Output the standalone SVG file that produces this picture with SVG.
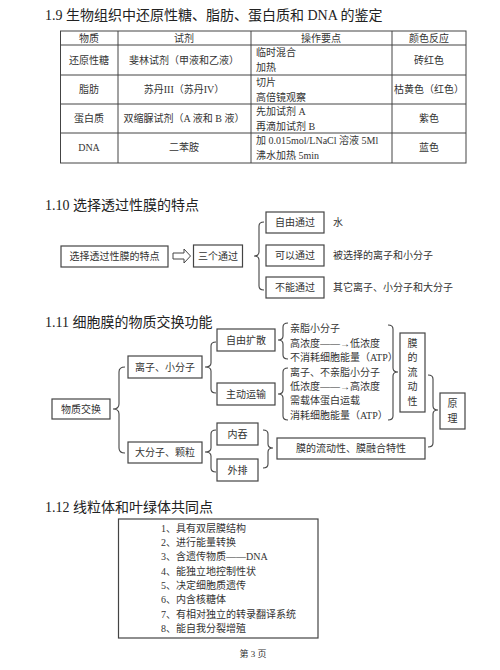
<svg xmlns="http://www.w3.org/2000/svg" width="500" height="670" viewBox="0 0 500 670">
<style>
.t{font-family:"Liberation Serif","Noto Sans CJK SC",serif;font-size:10px;fill:#333}
.c{text-anchor:middle}
.h{font-family:"Liberation Serif","Noto Sans CJK SC",serif;font-size:14px;fill:#222}
.b{fill:#fff;stroke:#444;stroke-width:1.2}
.l{fill:none;stroke:#444;stroke-width:1}
.br{fill:none;stroke:#444;stroke-width:1.1}
</style>
<rect width="500" height="670" fill="#fff"/>

<!-- 1.9 -->
<text class="h" x="45" y="20">1.9 生物组织中还原性糖、脂肪、蛋白质和 DNA 的鉴定</text>
<g id="table">
<rect class="l" x="60.5" y="31" width="405.5" height="132"/>
<path class="l" d="M60.5 45H466M60.5 75H466M60.5 104H466M60.5 133H466M118 31V163M251 31V163M392 31V163"/>
<text class="t c" x="89" y="41.5">物质</text>
<text class="t c" x="184" y="41.5">试剂</text>
<text class="t c" x="321" y="41.5">操作要点</text>
<text class="t c" x="429" y="41.5">颜色反应</text>
<text class="t c" x="89" y="63.5">还原性糖</text>
<text class="t c" x="184" y="63.5">斐林试剂（甲液和乙液）</text>
<text class="t" x="256" y="56">临时混合</text>
<text class="t" x="256" y="70.5">加热</text>
<text class="t c" x="429" y="63.5">砖红色</text>
<text class="t c" x="89" y="93">脂肪</text>
<text class="t c" x="184" y="93">苏丹III（苏丹IV）</text>
<text class="t" x="256" y="85.5">切片</text>
<text class="t" x="256" y="100.5">高倍镜观察</text>
<text class="t c" x="429" y="93">枯黄色（红色）</text>
<text class="t c" x="89" y="122">蛋白质</text>
<text class="t c" x="184" y="122">双缩脲试剂（A 液和 B 液）</text>
<text class="t" x="256" y="114.5">先加试剂 A</text>
<text class="t" x="256" y="129.5">再滴加试剂 B</text>
<text class="t c" x="429" y="122">紫色</text>
<text class="t c" x="89" y="151">DNA</text>
<text class="t c" x="184" y="151">二苯胺</text>
<text class="t" x="256" y="143.5">加 0.015mol/LNaCl 溶液 5Ml</text>
<text class="t" x="256" y="158.5">沸水加热 5min</text>
<text class="t c" x="429" y="151">蓝色</text>
</g>

<!-- 1.10 -->
<text class="h" x="45" y="210">1.10 选择透过性膜的特点</text>
<g id="n10a"><rect class="b" x="61" y="246" width="107" height="21"/><text class="t c" x="114.5" y="260">选择透过性膜的特点</text></g>
<g id="n10b"><rect class="b" x="193.5" y="245" width="49" height="22"/><text class="t c" x="218" y="259.5">三个通过</text></g>
<g id="n10c"><rect class="b" x="266" y="212" width="58" height="21"/><text class="t c" x="295" y="226">自由通过</text><text class="t" x="333" y="226">水</text></g>
<g id="n10d"><rect class="b" x="266" y="245" width="58" height="21"/><text class="t c" x="295" y="259">可以通过</text><text class="t" x="333" y="259">被选择的离子和小分子</text></g>
<g id="n10e"><rect class="b" x="266" y="277" width="58" height="21"/><text class="t c" x="295" y="291">不能通过</text><text class="t" x="333" y="291">其它离子、小分子和大分子</text></g>

<!-- 1.11 -->
<text class="h" x="45" y="327">1.11 细胞膜的物质交换功能</text>
<g id="n11a"><rect class="b" x="52" y="399" width="58" height="20"/><text class="t c" x="81" y="412.5">物质交换</text></g>
<g id="n11b"><rect class="b" x="128" y="356" width="74" height="22"/><text class="t c" x="165" y="370.5">离子、小分子</text></g>
<g id="n11c"><rect class="b" x="128" y="442" width="74" height="21"/><text class="t c" x="165" y="456">大分子、颗粒</text></g>
<g id="n11d"><rect class="b" x="217" y="329" width="58" height="22"/><text class="t c" x="246" y="343.5">自由扩散</text></g>
<g id="n11e"><rect class="b" x="217" y="383" width="58" height="22"/><text class="t c" x="246" y="397.5">主动运输</text></g>
<g id="n11f"><rect class="b" x="217" y="423" width="41" height="22"/><text class="t c" x="237.5" y="437.5">内吞</text></g>
<g id="n11g"><rect class="b" x="217" y="459" width="41" height="22"/><text class="t c" x="237.5" y="473.5">外排</text></g>
<g id="n11h">
<text class="t" x="290" y="331.5">亲脂小分子</text>
<text class="t" x="290" y="346.5">高浓度——→低浓度</text>
<text class="t" x="290" y="361">不消耗细胞能量（ATP）</text>
</g>
<g id="n11i">
<text class="t" x="290" y="375.5">离子、不亲脂小分子</text>
<text class="t" x="290" y="390">低浓度——→高浓度</text>
<text class="t" x="290" y="404">需载体蛋白运载</text>
<text class="t" x="290" y="418.5">消耗细胞能量（ATP）</text>
</g>
<g id="n11j"><rect class="b" x="400" y="333" width="25" height="79"/>
<text class="t c" x="412.5" y="346.5">膜</text><text class="t c" x="412.5" y="361">的</text><text class="t c" x="412.5" y="375.5">流</text><text class="t c" x="412.5" y="390">动</text><text class="t c" x="412.5" y="404.5">性</text></g>
<g id="n11k"><rect class="b" x="277" y="438" width="148" height="21"/><text class="t c" x="351" y="452">膜的流动性、膜融合特性</text></g>
<g id="n11l"><rect class="b" x="440" y="393" width="25" height="36"/><text class="t c" x="452.5" y="406.5">原</text><text class="t c" x="452.5" y="422">理</text></g>

<!-- 1.12 -->
<text class="h" x="45" y="512">1.12 线粒体和叶绿体共同点</text>
<g id="n12"><rect class="b" x="118.5" y="519" width="199.5" height="119"/>
<text class="t" x="161" y="531.5">1、具有双层膜结构</text>
<text class="t" x="161" y="546">2、进行能量转换</text>
<text class="t" x="161" y="560">3、含遗传物质——DNA</text>
<text class="t" x="161" y="574.5">4、能独立地控制性状</text>
<text class="t" x="161" y="589">5、决定细胞质遗传</text>
<text class="t" x="161" y="603">6、内含核糖体</text>
<text class="t" x="161" y="617.5">7、有相对独立的转录翻译系统</text>
<text class="t" x="161" y="631.5">8、能自我分裂增殖</text>
</g>
<text class="t c" x="253" y="657" style="font-size:9px">第 3 页</text>

<g id="connectors">
<polygon class="l" points="173,253 184,253 184,249 190.5,256 184,263 184,259 173,259" fill="#fff"/>
<!-- 1.10 brace -->
<path class="br" d="M264 222Q259 222 259 226L259 252Q259 256 254 256Q259 256 259 260L259 286Q259 290 264 290"/>
<!-- 1.11 braces -->
<path class="br" d="M125 367Q119 367 119 372L119 404Q119 409 113 409Q119 409 119 414L119 448Q119 453 125 453"/>
<path class="br" d="M216 342Q211 342 211 346L211 363Q211 367 205 367Q211 367 211 371L211 389Q211 393 216 393"/>
<path class="br" d="M216 430Q211 430 211 434L211 448Q211 452 205 452Q211 452 211 456L211 468Q211 472 216 472"/>
<path class="br" d="M288 323Q283 323 283 327L283 336Q283 340 278 340Q283 340 283 344L283 355Q283 359 288 359"/>
<path class="br" d="M288 368Q283 368 283 372L283 390Q283 394 278 394Q283 394 283 398L283 416Q283 420 288 420"/>
<path class="br" d="M388 325Q393 325 393 329L393 368Q393 372 398 372Q393 372 393 376L393 416Q393 420 388 420"/>
<path class="br" d="M263 430Q268 430 268 434L268 444Q268 448 273 448Q268 448 268 452L268 464Q268 468 263 468"/>
<path class="br" d="M428 375Q433 375 433 379L433 406Q433 410 438 410Q433 410 433 414L433 443Q433 447 428 447"/>
</g>
</svg>
